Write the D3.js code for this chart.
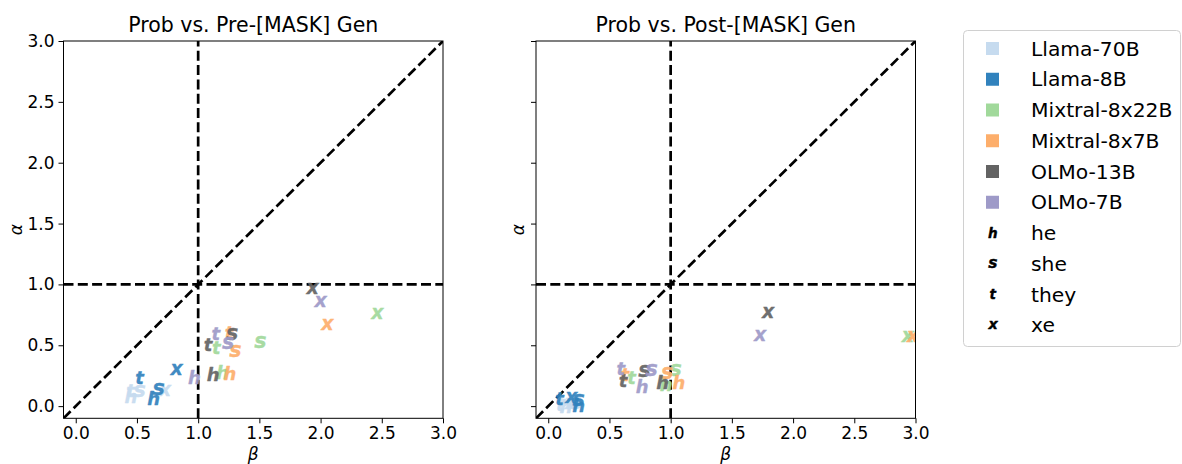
<!DOCTYPE html>
<html>
<head>
<meta charset="utf-8">
<script src="https://cdn.jsdelivr.net/npm/d3@7/dist/d3.min.js"></script>
<style>
  html, body { margin: 0; padding: 0; background: #fff; }
  svg { display: block; font-family: "DejaVu Sans", sans-serif; }
</style>
</head>
<body>
<svg id="chart" width="1182" height="464"></svg>
<script>
// Models (color legend) and pronouns (marker legend)
const models = ["Llama-70B", "Llama-8B", "Mixtral-8x22B", "Mixtral-8x7B", "OLMo-13B", "OLMo-7B"];
const modelColors = ["#c6dbef", "#3182bd", "#a1d99b", "#fdae6b", "#636363", "#9e9ac8"];
const pronouns = ["he", "she", "they", "xe"];
const pronounMarks = ["h", "s", "t", "x"];

// Panel titles and axis ticks
const panelTitles = ["Prob vs. Pre-[MASK] Gen", "Prob vs. Post-[MASK] Gen"];
const tickValues = [0.0, 0.5, 1.0, 1.5, 2.0, 2.5, 3.0];

// Pre-[MASK] generation: beta and alpha per model, in pronoun order (he, she, they, xe)
const preBeta = [
  [0.447, 0.518, 0.450, 0.722],
  [0.632, 0.673, 0.523, 0.818],
  [1.196, 1.504, 1.150, 2.459],
  [1.254, 1.300, 1.254, 2.050],
  [1.118, 1.273, 1.082, 1.930],
  [0.965, 1.240, 1.145, 1.995]
];
const preAlpha = [
  [0.085, 0.123, 0.130, 0.129],
  [0.068, 0.140, 0.232, 0.296],
  [0.282, 0.528, 0.482, 0.761],
  [0.273, 0.451, 0.603, 0.665],
  [0.263, 0.591, 0.501, 0.961],
  [0.241, 0.520, 0.597, 0.856]
];

// Post-[MASK] generation
const postBeta = [
  [0.140, 0.220, 0.100, 0.180],
  [0.244, 0.244, 0.094, 0.184],
  [0.959, 1.035, 0.681, 2.931],
  [1.062, 0.967, 0.626, 2.972],
  [0.931, 0.781, 0.612, 1.790],
  [0.763, 0.839, 0.593, 1.725]
];
const postAlpha = [
  [0.000, 0.020, 0.010, 0.020],
  [0.008, 0.049, 0.063, 0.068],
  [0.178, 0.296, 0.232, 0.569],
  [0.200, 0.268, 0.255, 0.569],
  [0.195, 0.287, 0.213, 0.766],
  [0.167, 0.296, 0.304, 0.575]
];

const panels = [
  { title: panelTitles[0], beta: preBeta, alpha: preAlpha, left: 63.5, showY: true },
  { title: panelTitles[1], beta: postBeta, alpha: postAlpha, left: 536, showY: false }
];

const svg = d3.select("#chart");
const plotW = 379.5, plotTop = 41, plotBottom = 418.3;
const domain = [-0.1, 3.0];
const dash = "10,4.3";

// Letter markers: per-letter font scale (so short letters are enlarged like a
// size-normalised text marker) and the ink centre height above the baseline.
const letterScale = { h: 1.0, s: 1.15, t: 1.0, x: 1.06 };
const letterMid = { h: 0.38, s: 0.28, t: 0.35, x: 0.27 };
function letterMarker(sel, ch, cx, cy, size, color, edge) {
  const fs = size * letterScale[ch];
  const t = sel.append("text")
    .text(ch)
    .attr("font-family", "DejaVu Sans")
    .attr("font-style", "italic")
    .attr("font-weight", "bold")
    .attr("font-size", fs)
    .attr("fill", color)
    .attr("stroke", color)
    .attr("stroke-width", edge)
    .attr("stroke-linejoin", "round");
  const bb = t.node().getBBox();
  return t.attr("x", cx - (bb.x + bb.width / 2) + fs * 0.03)
    .attr("y", cy + fs * letterMid[ch]);
}

panels.forEach((p, pi) => {
  const x = d3.scaleLinear().domain(domain).range([p.left, p.left + plotW]);
  const y = d3.scaleLinear().domain(domain).range([plotBottom, plotTop]);

  const clipId = "clip" + pi;
  svg.append("clipPath").attr("id", clipId)
    .append("rect")
    .attr("x", p.left).attr("y", plotTop)
    .attr("width", plotW).attr("height", plotBottom - plotTop);

  const g = svg.append("g");

  // Axes
  const xAxis = d3.axisBottom(x).tickValues(tickValues).tickFormat(d3.format(".1f")).tickSize(5).tickPadding(4);
  const gx = g.append("g").attr("transform", `translate(0,${plotBottom})`).call(xAxis);
  const yAxis = d3.axisLeft(y).tickValues(tickValues).tickFormat(p.showY ? d3.format(".1f") : () => "").tickSize(5).tickPadding(4);
  const gy = g.append("g").attr("transform", `translate(${p.left},0)`).call(yAxis);
  [gx, gy].forEach(a => {
    a.select(".domain").remove();
    a.selectAll(".tick line").attr("stroke", "#000").attr("stroke-width", 1);
    a.selectAll(".tick text").attr("font-size", 17).attr("fill", "#000")
      .attr("font-family", "DejaVu Sans, sans-serif");
  });

  // Reference lines: identity diagonal, beta = 1 and alpha = 1
  const refs = g.append("g").attr("clip-path", `url(#${clipId})`);
  refs.append("line")
    .attr("x1", x(domain[0])).attr("y1", y(domain[0]))
    .attr("x2", x(domain[1])).attr("y2", y(domain[1]));
  refs.append("line")
    .attr("x1", x(1)).attr("y1", y(domain[0]))
    .attr("x2", x(1)).attr("y2", y(domain[1]));
  refs.append("line")
    .attr("x1", x(domain[0])).attr("y1", y(1))
    .attr("x2", x(domain[1])).attr("y2", y(1));
  refs.selectAll("line")
    .attr("stroke", "#000").attr("stroke-width", 2.7).attr("stroke-dasharray", dash);

  // One letter marker per model and pronoun
  const pts = g.append("g").attr("clip-path", `url(#${clipId})`);
  models.forEach((m, mi) => {
    pronouns.forEach((pr, ki) => {
      letterMarker(pts, pronounMarks[ki], x(p.beta[mi][ki]), y(p.alpha[mi][ki]), 18, modelColors[mi], 0.3)
        .attr("opacity", 0.92);
    });
  });

  // Frame
  g.append("rect")
    .attr("x", p.left).attr("y", plotTop)
    .attr("width", plotW).attr("height", plotBottom - plotTop)
    .attr("fill", "none").attr("stroke", "#000").attr("stroke-width", 1);

  // Title and axis labels
  g.append("text")
    .attr("x", p.left + plotW / 2).attr("y", 32)
    .attr("text-anchor", "middle").attr("font-size", 20.5)
    .text(p.title);
  g.append("text")
    .attr("x", p.left + plotW / 2).attr("y", 460)
    .attr("text-anchor", "middle").attr("font-size", 17)
    .attr("font-style", "italic")
    .text("β");
  g.append("text")
    .attr("transform", `translate(${p.left - (p.showY ? 42 : 12)},${(plotTop + plotBottom) / 2}) rotate(-90)`)
    .attr("text-anchor", "middle").attr("font-size", 17)
    .attr("font-style", "italic")
    .text("α");
});

// Legend
const lg = svg.append("g");
lg.append("rect")
  .attr("x", 963.5).attr("y", 30.5)
  .attr("width", 217).attr("height", 316)
  .attr("rx", 4).attr("ry", 4)
  .attr("fill", "#fff").attr("stroke", "#d0d0d0").attr("stroke-width", 1);

const rowY = i => 48.5 + i * 30.75;
models.forEach((m, i) => {
  lg.append("rect")
    .attr("x", 986).attr("y", rowY(i) - 6.5)
    .attr("width", 13).attr("height", 13)
    .attr("fill", modelColors[i]);
  lg.append("text")
    .attr("x", 1031).attr("y", rowY(i)).attr("dy", "0.35em")
    .attr("font-size", 20.3).text(m);
});
pronouns.forEach((pr, k) => {
  const i = models.length + k;
  letterMarker(lg, pronounMarks[k], 992.5, rowY(i), 13.5, "#000", 0.4);
  lg.append("text")
    .attr("x", 1031).attr("y", rowY(i)).attr("dy", "0.35em")
    .attr("font-size", 20.3).text(pr);
});
</script>
</body>
</html>
